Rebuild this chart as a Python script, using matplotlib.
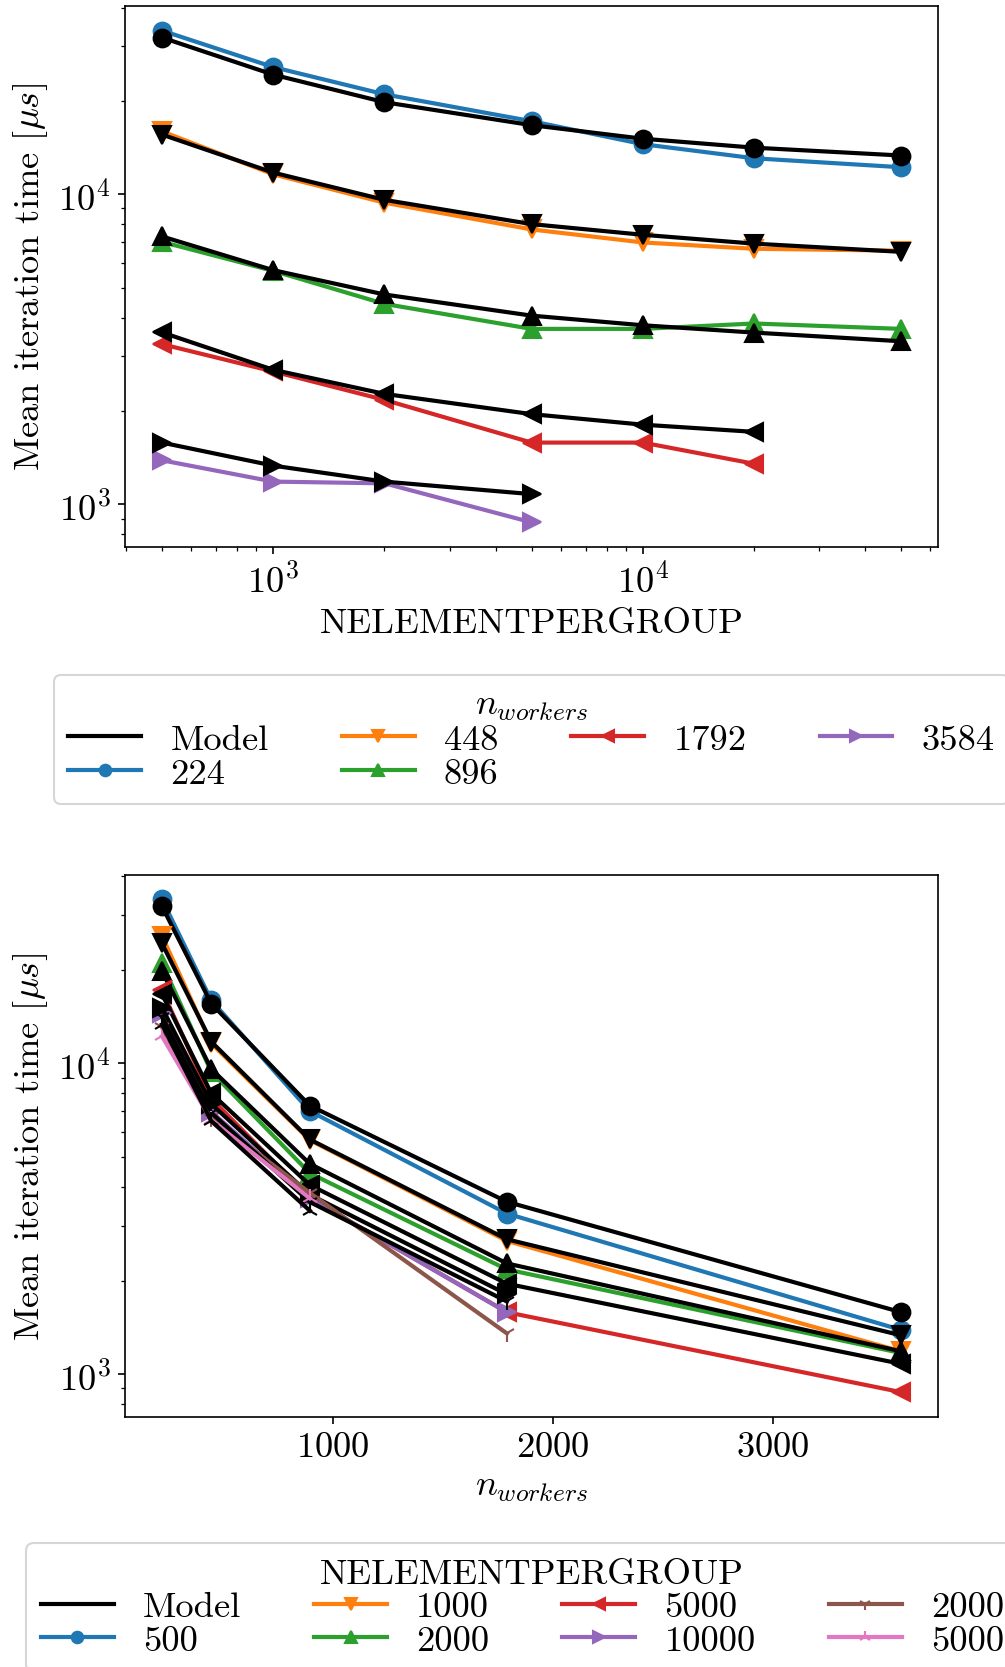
import numpy as np
import matplotlib
matplotlib.use("Agg")
import matplotlib.pyplot as plt
from matplotlib.lines import Line2D

plt.rcParams["font.family"] = "serif"
plt.rcParams["font.serif"] = ["cmr10", "DejaVu Serif"]
plt.rcParams["mathtext.fontset"] = "cm"
plt.rcParams["axes.formatter.use_mathtext"] = True
plt.rcParams["font.size"] = 17.5

# number of workers (rows) and NELEMENTPERGROUP (columns)
workers = [224, 448, 896, 1792, 3584]
nelem = [500, 1000, 2000, 5000, 10000, 20000, 50000]

# measured mean iteration time [us], nan = not run
meas_224 = [33700, 25700, 21000, 17200, 14500, 13060, 12220]
meas_448 = [15950, 11590, 9390, 7700, 6990, 6670, 6575]
meas_896 = [7020, 5660, 4430, 3680, 3680, 3830, 3680]
meas_1792 = [3285, 2682, 2172, 1582, 1582, 1352, np.nan]
meas_3584 = [1387, 1184, 1169, 875, np.nan, np.nan, np.nan]

# model prediction [us]
model_224 = [32000, 24300, 19800, 16700, 15100, 14130, 13330]
model_448 = [15570, 11740, 9590, 8010, 7400, 6930, 6520]
model_896 = [7310, 5690, 4750, 4060, 3780, 3580, 3357]
model_1792 = [3585, 2716, 2271, 1954, 1807, 1713, np.nan]
model_3584 = [1582, 1333, 1184, 1079, np.nan, np.nan, np.nan]

meas = np.array([meas_224, meas_448, meas_896, meas_1792, meas_3584], dtype=float)
model = np.array([model_224, model_448, model_896, model_1792, model_3584], dtype=float)

markers = ["o", "v", "^", "<", ">", "1", "2"]
colors = plt.rcParams["axes.prop_cycle"].by_key()["color"]
LW = 2.0
MS = 8.5


def draw(ax, x, meas_rows, model_rows, labels):
    handles = [Line2D([], [], color="k", lw=LW, label="Model")]
    x = np.asarray(x)
    for i, lab in enumerate(labels):
        m = ~np.isnan(meas_rows[i])
        h, = ax.plot(x[m], meas_rows[i][m], marker=markers[i],
                     color=colors[i], ms=MS, lw=LW, label=str(lab))
        ax.plot(x[m], model_rows[i][m], marker=markers[i],
                color="k", ms=MS, lw=LW)
        handles.append(h)
    return handles


fig = plt.figure(figsize=(6.7, 11.12), dpi=150)

# top: time vs NELEMENTPERGROUP, one line per n_workers
ax1 = fig.add_axes([0.1244, 0.6715, 0.809, 0.3243])
h1 = draw(ax1, nelem, meas, model, workers)
ax1.set_xscale("log")
ax1.set_yscale("log")
ax1.set_xlabel("NELEMENTPERGROUP")
ax1.set_ylabel(r"Mean iteration time [$\mu s$]")
ax1.legend(handles=h1, title=r"$n_{workers}$", ncol=4, loc="upper center",
           bbox_to_anchor=(0.5, -0.203), markerscale=0.65, labelspacing=0.03)

# bottom: time vs n_workers, one line per NELEMENTPERGROUP
ax2 = fig.add_axes([0.1244, 0.150, 0.809, 0.325])
h2 = draw(ax2, workers, meas.T, model.T, nelem)
ax2.set_yscale("log")
ax2.set_xlabel(r"$n_{workers}$")
ax2.set_ylabel(r"Mean iteration time [$\mu s$]")
ax2.legend(handles=h2, title="NELEMENTPERGROUP", ncol=4, loc="upper center",
           bbox_to_anchor=(0.5, -0.2), markerscale=0.65, labelspacing=0.03)

fig.savefig("out.png", dpi=150)
